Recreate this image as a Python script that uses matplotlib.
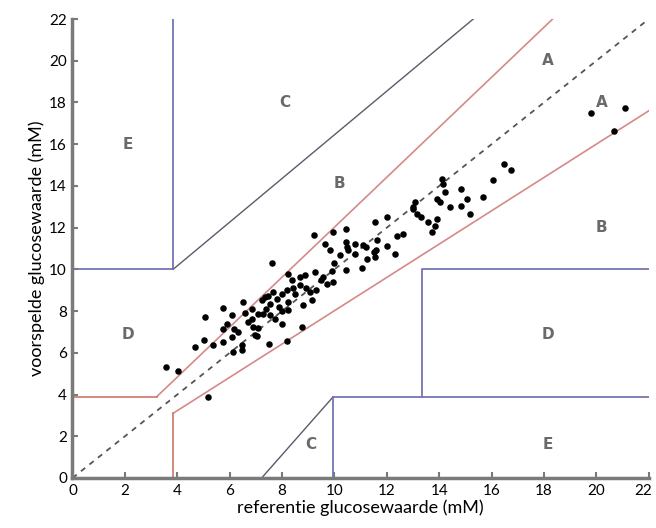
import numpy as np
import matplotlib
matplotlib.use('Agg')
import matplotlib.pyplot as plt
import matplotlib.transforms as mtransforms

# reference vs predicted glucose (mM)
ref = [3.57, 4.04, 4.68, 5.03, 5.06, 5.37, 5.76, 5.76, 5.88, 5.76, 6.08, 6.18, 6.08, 6.14,
       6.48, 6.48, 6.52, 6.84, 6.84, 6.90, 6.97, 7.09, 5.18,
       9.23, 7.60, 8.24, 8.37, 8.68, 8.87, 8.68, 9.26, 9.57, 9.70, 8.18, 7.98, 7.66, 7.35,
       7.22, 7.54, 8.24, 9.06, 9.13, 7.28, 7.54, 7.73, 7.98, 8.24, 8.75, 7.03, 9.64,
       9.95, 10.44, 9.83, 10.46, 10.49, 10.53, 10.78, 11.10, 11.23, 11.04, 11.55, 11.99,
       11.63, 11.58, 11.55, 12.63, 12.31, 10.44, 9.89, 9.95, 13.00, 13.14,
       14.09, 14.15, 14.22, 13.90, 14.03, 14.85, 15.05, 14.85, 15.17, 15.68, 16.06, 13.07,
       13.00, 13.58, 13.90, 13.84, 13.71, 16.48, 16.74, 19.79, 21.10, 20.68, 11.20, 11.52,
       8.18, 7.51, 7.40, 7.80, 8.00, 8.50, 8.90, 9.30, 9.50, 10.00, 10.20, 10.80, 12.00,
       12.40, 13.30, 14.40, 7.10, 6.70, 7.45, 7.90, 8.40, 8.80, 6.30, 6.60]
pred = [5.30, 5.13, 6.28, 6.60, 7.72, 6.36, 8.17, 7.16, 7.40, 6.52, 7.80, 7.16, 6.76, 6.04,
        6.36, 6.12, 8.44, 8.12, 7.64, 7.24, 6.84, 7.88, 3.89,
        11.67, 10.32, 9.79, 9.47, 9.63, 9.71, 9.23, 9.87, 9.63, 9.32, 9.00, 8.84, 8.92, 8.67,
        8.52, 8.36, 8.44, 8.91, 8.52, 7.88, 7.80, 7.64, 7.40, 8.04, 7.24, 6.79, 11.23,
        11.78, 11.95, 10.91, 11.31, 11.07, 10.91, 10.75, 11.15, 10.51, 10.08, 12.26, 12.50,
        11.39, 10.91, 10.59, 11.71, 10.75, 9.95, 9.92, 9.39, 12.90, 12.66,
        14.34, 14.10, 13.70, 13.38, 13.22, 13.86, 13.38, 13.06, 12.66, 13.49, 14.26, 13.22,
        12.98, 12.26, 12.43, 12.10, 11.79, 15.06, 14.74, 17.48, 17.74, 16.65, 11.07, 10.83,
        6.57, 6.41, 8.10, 8.60, 8.00, 8.80, 9.10, 9.00, 9.50, 10.30, 10.70, 11.20, 11.10,
        11.60, 12.50, 13.00, 7.20, 7.50, 8.70, 8.20, 9.10, 8.30, 7.00, 7.90]

zone_labels = ['E', 'C', 'A', 'A', 'B', 'B', 'D', 'D', 'C', 'E']
zone_x = [2.1, 8.1, 18.15, 20.2, 10.2, 20.2, 2.1, 18.15, 9.1, 18.15]
zone_y = [16.0, 18.0, 20.0, 18.0, 14.1, 12.0, 6.9, 6.9, 1.6, 1.6]

blue = '#7474b4'
red = '#d48a8a'
grey = '#5a5a6a'

fig = plt.figure(figsize=(6.56, 5.28), dpi=100)
ax = fig.add_axes([0.1105, 0.0947, 0.8785, 0.8693])

# identity line
ax.plot([0, 22], [0, 22], color='#555555', linestyle=(0, (3, 3)), linewidth=1.3)

# zone A boundaries
ax.plot([3.21, 18.33], [3.89, 22], color=red, linewidth=1.2)
ax.plot([3.84, 22], [3.1, 17.6], color=red, linewidth=1.2)
ax.plot([0, 3.21], [3.89, 3.89], color='#c87866', linewidth=1.2)
ax.plot([3.84, 3.84], [0, 3.1], color='#c87866', linewidth=1.2)

# zone C boundaries
ax.plot([3.84, 15.3], [10, 22], color=grey, linewidth=1.0)
ax.plot([7.22, 9.95], [0, 3.89], color=grey, linewidth=1.0)

# zone D / E boundaries
ax.plot([0, 3.84, 3.84], [10, 10, 22], color=blue, linewidth=1.3)
ax.plot([9.95, 9.95], [0, 3.89], color=blue, linewidth=1.3)
ax.plot([9.95, 22], [3.89, 3.89], color=blue, linewidth=1.3)
ax.plot([13.33, 13.33, 22], [3.89, 10, 10], color=blue, linewidth=1.3)

ax.scatter(ref, pred, s=22, color='black', zorder=5, linewidths=0)

for lab, x, y in zip(zone_labels, zone_x, zone_y):
    ax.text(x, y, lab, ha='center', va='center', fontsize=11, fontweight='bold',
            color='#6a6a6a', family='DejaVu Sans')

ax.set_xlim(0, 22)
ax.set_ylim(0, 22)
ax.set_xticks(range(0, 23, 2))
ax.set_yticks(range(0, 23, 2))
for s in ['top', 'right']:
    ax.spines[s].set_visible(False)
for s in ['left', 'bottom']:
    ax.spines[s].set_color('#7a7a7a')
    ax.spines[s].set_linewidth(2.5)
ax.tick_params(direction='in', length=4, width=1.5, color='#7a7a7a',
               labelsize=11, pad=4)
for t in ax.get_xticklabels() + ax.get_yticklabels():
    t.set_family('Lato')

# keep the last x label inside the figure
last = ax.get_xticklabels()[-1]
last.set_transform(last.get_transform() +
                   mtransforms.ScaledTranslation(-4 / 72, 0, fig.dpi_scale_trans))

ax.set_xlabel('referentie glucosewaarde (mM)', fontsize=13, family='Lato', labelpad=1)
ax.set_ylabel('voorspelde glucosewaarde (mM)', fontsize=13, family='Lato', labelpad=3)

plt.savefig('out.png', dpi=100)
